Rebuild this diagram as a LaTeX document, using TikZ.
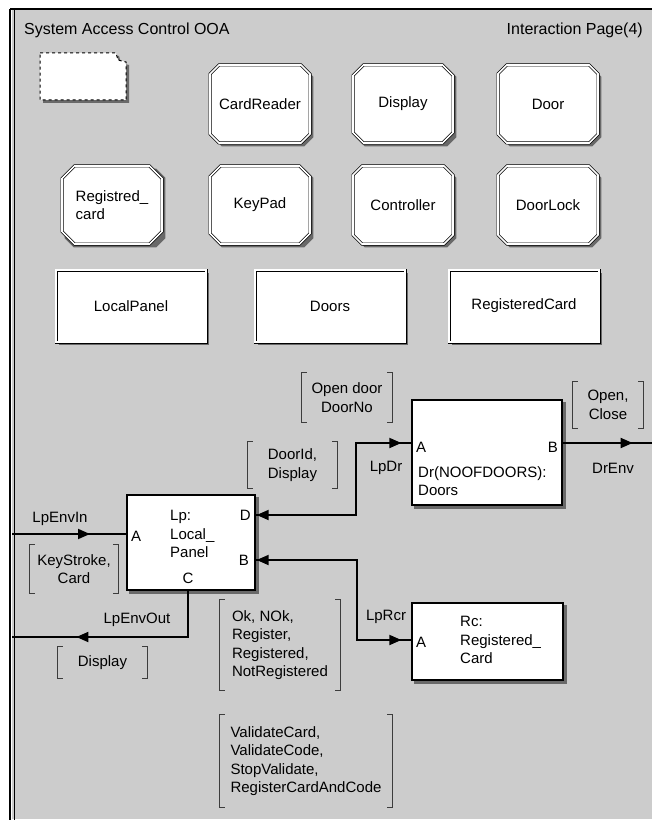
\documentclass[tikz,border=0pt]{standalone}
\usepackage{fontspec}
\setmainfont{Liberation Sans}
\usetikzlibrary{shapes.misc,arrows.meta,decorations.markings,calc,backgrounds}
\definecolor{panelgray}{RGB}{204,204,204}
\definecolor{shadegray}{RGB}{105,105,105}
\definecolor{bracketgray}{RGB}{60,60,60}

\tikzset{
  txt/.style={font=\fontsize{15}{18.5}\selectfont, inner sep=0pt},
  objclass/.style={txt, chamfered rectangle, chamfered rectangle xsep=9pt, draw, double=white, double distance=1.6pt, line width=0.7pt, fill=white, minimum width=100pt, minimum height=78pt, align=left},
  assocbox/.style={txt, rectangle, draw, double=white, double distance=1.6pt, line width=0.7pt, fill=white, minimum width=150pt, minimum height=72pt},
  instbox/.style={rectangle, draw, line width=1.3pt, fill=white},
  msg/.style={txt, align=center},
  conn/.style={line width=1.8pt},
  flow/.style={conn, postaction={decorate}, decoration={markings, mark=at position #1 with {\arrow{>}}}},
  twoflow/.style={conn, postaction={decorate}, decoration={markings, mark=at position 1pt with {\arrowreversed{>}}, mark=at position -10pt with {\arrow{>}}}},
  brk/.style={bracketgray, line width=1.3pt}
}

% square brackets round a message node
\newcommand{\msgbrackets}[1]{%
  \draw[brk] ([xshift=5pt]#1.north west) -- (#1.north west) -- (#1.south west) -- ([xshift=5pt]#1.south west);
  \draw[brk] ([xshift=-5pt]#1.north east) -- (#1.north east) -- (#1.south east) -- ([xshift=-5pt]#1.south east);}

% grey shadow down and right of a box
\newcommand{\rectshadow}[1]{%
  \fill[shadegray] ($(#1.south west)+(3pt,-3pt)$) rectangle ($(#1.north east)+(3pt,-3pt)$);}
\newcommand{\chamshadow}[1]{%
  \fill[shadegray] ($(#1.north -| #1.west)+(12pt,-3pt)$) -- ($(#1.north -| #1.east)+(-6pt,-3pt)$)
    -- ($(#1.north -| #1.east)+(3pt,-12pt)$) -- ($(#1.south -| #1.east)+(3pt,6pt)$)
    -- ($(#1.south -| #1.east)+(-6pt,-3pt)$) -- ($(#1.south -| #1.west)+(12pt,-3pt)$)
    -- ($(#1.south -| #1.west)+(3pt,6pt)$) -- ($(#1.north -| #1.west)+(3pt,-12pt)$) -- cycle;}

\begin{document}
\begin{tikzpicture}[x=1pt, y=-1pt, >={Triangle[length=12pt, width=10pt]}]
  \useasboundingbox (0,0) rectangle (652,826);

  % Page frame
  \begin{scope}[on background layer]
    \fill[panelgray] (12,9) rectangle (652,819);
  \end{scope}
  \draw[white, line width=1pt] (12,819.5) -- (652,819.5);
  \draw[line width=1.6pt] (10,9) -- (652,9);
  \draw[line width=2pt] (10,9) -- (10,820);
  \draw[line width=1pt] (14,10) -- (14,820);

  % Page heading
  \node[txt, font=\fontsize{16}{19}\selectfont, anchor=west] (title) at (24,30) {System Access Control OOA};
  \node[txt, font=\fontsize{16}{19}\selectfont, anchor=east] (page) at (643,30) {Interaction Page(4)};

  % Empty dashed class
  \fill[shadegray] (43,56) -- (119,56) -- (121,63) -- (129,65) -- (129,103) -- (43,103) -- cycle;
  \draw[dashed, line width=1pt, fill=white] (40,53) -- (116,53) -- (118,60) -- (126,62) -- (126,100) -- (40,100) -- cycle;

  % Object classes
  \node[objclass] (cardreader) at (260,104) {CardReader};
  \node[objclass] (display) at (403,104) {Display};
  \node[objclass] (door) at (548,104) {Door};
  \node[objclass] (registredcard) at (112,205) {Registred\_\\card};
  \node[objclass] (keypad) at (260,205) {KeyPad};
  \node[objclass] (controller) at (403,205) {Controller};
  \node[objclass] (doorlock) at (548,205) {DoorLock};

  % Assemblies
  \node[assocbox] (localpanel) at (131,306) {LocalPanel};
  \node[assocbox] (doors) at (330,306) {Doors};
  \node[assocbox] (registeredcard) at (524,306) {RegisteredCard};

  % Instances
  \node[instbox, minimum width=128pt, minimum height=95pt] (lp) at (191,542.5) {};
  \node[instbox, minimum width=150pt, minimum height=105pt] (dr) at (487,452.5) {};
  \node[instbox, minimum width=151pt, minimum height=77pt] (rc) at (487.5,641.5) {};

  \begin{scope}[on background layer]
    \foreach \n in {cardreader,display,door,registredcard,keypad,controller,doorlock}
      {\chamshadow{\n}}
    \foreach \n in {localpanel,doors,registeredcard,lp,dr,rc}
      {\rectshadow{\n}}
  \end{scope}

  \node[txt, align=left, anchor=west] (lpname) at (170,534) {Lp:\\Local\_\\Panel};
  \node[txt, anchor=west] (lpA) at (131,536) {A};
  \node[txt, anchor=east] (lpD) at (251,515) {D};
  \node[txt, anchor=east] (lpB) at (249,560) {B};
  \node[txt] (lpC) at (188,578) {C};

  \node[txt, align=left, anchor=west] (drname) at (418,481) {Dr(NOOFDOORS):\\Doors};
  \node[txt, anchor=west] (drA) at (416,447) {A};
  \node[txt, anchor=east] (drB) at (558,447) {B};

  \node[txt, align=left, anchor=west] (rcname) at (460,640) {Rc:\\Registered\_\\Card};
  \node[txt, anchor=west] (rcA) at (416,642) {A};

  % Connectors
  \coordinate (envin) at (12,534);
  \coordinate (envout) at (12,637);
  \coordinate (lpdrbend) at (356,443);
  \coordinate (lprcbend) at (357,640);
  \coordinate (drenv) at (652,443);

  \draw[flow=78pt] (envin) -- (lp.west |- envin);
  \draw[flow=158pt] (lpC |- lp.south) |- (envout);
  \draw[twoflow] (lp.east |- lpD) -| (lpdrbend) -- (dr.west |- lpdrbend);
  \draw[twoflow] (lp.east |- lpB) -| (lprcbend) -- (rc.west |- lprcbend);
  \draw[flow=70pt] (dr.east |- lpdrbend) -- (drenv);

  \node[txt] (lpenvin) at (60,519) {LpEnvIn};
  \node[txt] (lpenvout) at (137,620) {LpEnvOut};
  \node[txt] (lprcr) at (386,617) {LpRcr};
  \node[txt] (lpdr) at (386,468) {LpDr};
  \node[txt] (drenvlbl) at (613,468) {DrEnv};

  % Messages
  \node[msg, minimum width=90pt, minimum height=49pt] (opendoor) at (347,397.5) {Open door\\DoorNo};
  \node[msg, minimum width=89pt, minimum height=46pt] (doorid) at (292.5,465) {DoorId,\\Display};
  \node[msg, minimum width=70pt, minimum height=46pt] (openclose) at (608,405) {Open,\\Close};
  \node[msg, minimum width=88pt, minimum height=48pt] (keystroke) at (74,569) {KeyStroke,\\Card};
  \node[msg, minimum width=89pt, minimum height=31pt] (displaymsg) at (102.5,662.5) {Display};
  \node[txt, align=left, minimum width=120pt, minimum height=90pt] (okmsg) at (280,645) {Ok, NOk,\\Register,\\Registered,\\NotRegistered};
  \node[txt, align=left, minimum width=172pt, minimum height=92pt] (validatemsg) at (306,761) {ValidateCard,\\ValidateCode,\\StopValidate,\\RegisterCardAndCode};
  \foreach \m in {opendoor,doorid,openclose,keystroke,displaymsg,okmsg,validatemsg}
    {\msgbrackets{\m}}
\end{tikzpicture}
\end{document}
